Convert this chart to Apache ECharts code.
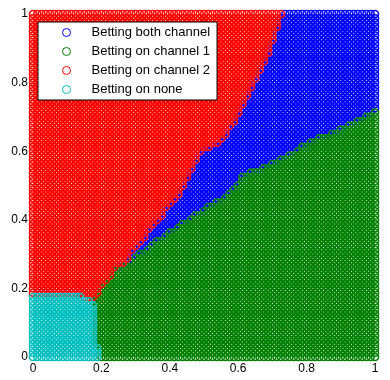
<!DOCTYPE html>
<html>
<head>
<meta charset="utf-8">
<script src="https://cdn.jsdelivr.net/npm/echarts@6/dist/echarts.min.js"></script>
<style>
  html, body { margin: 0; padding: 0; background: #ffffff; }
  #chart { width: 390px; height: 380px; }
</style>
</head>
<body>
<div id="chart"></div>
<script>
// Series names (legend order)
const seriesNames = ['Betting both channel', 'Betting on channel 1', 'Betting on channel 2', 'Betting on none'];
const seriesColors = ['#0000ff', '#008000', '#ff0000', '#00bfbf'];

// Tick labels
const xTicks = [0, 0.2, 0.4, 0.6, 0.8, 1];
const yTicks = [0, 0.2, 0.4, 0.6, 0.8, 1];

// Sample grid: 81 x 81 points, step 0.0125 on both axes
const gridStep = 0.0125;
const gridCount = 81;

// Per row (y index 0..80, bottom to top) run-length boundaries,
// as column indexes (x index 0..80):
//   columns [0, cyanEnd)        -> Betting on none
//   columns [cyanEnd, redEnd)   -> Betting on channel 2
//   columns [redEnd, blueEnd)   -> Betting both channel
//   columns [blueEnd, 81)       -> Betting on channel 1
const cyanEnd = [16,16,16,15,15,15,15,15,15,15,15,15,15,14,12,
  0,0,0,0,0,0,0,0,0,0,0,0,0,0,0,0,0,0,0,0,0,0,0,0,0,0,0,0,0,0,0,0,0,0,0,0,0,0,0,0,0,0,0,0,0,0,0,0,0,0,0,0,0,0,0,0,0,0,0,0,0,0,0,0,0,0];
const redEnd = [16,16,16,15,15,15,15,15,15,15,15,15,15,14,15,
  16,16,17,18,19,19,20,22,23,23,24,25,26,27,27,28,29,30,31,31,32,33,34,35,35,36,36,37,37,38,38,39,39,40,42,44,45,46,46,47,48,48,49,49,
  50,50,51,51,52,52,53,53,54,54,55,55,56,56,56,57,57,57,58,58,58,59];
const blueEnd = [16,16,16,15,15,15,15,15,15,15,15,15,15,14,15,
  16,16,17,18,19,19,21,23,24,25,27,28,29,31,32,34,35,37,38,40,41,43,45,46,47,48,49,49,51,54,56,58,60,62,63,65,67,70,72,74,76,78,80,
  81,81,81,81,81,81,81,81,81,81,81,81,81,81,81,81,81,81,81,81,81,81,81];

// Decode runs into the four point lists
const pts = [[], [], [], []]; // both, ch1, ch2, none
for (let j = 0; j < gridCount; j++) {
  const y = +(j * gridStep).toFixed(4);
  for (let i = 0; i < gridCount; i++) {
    const x = +(i * gridStep).toFixed(4);
    let k;
    if (i < cyanEnd[j]) k = 3;
    else if (i < redEnd[j]) k = 2;
    else if (i < blueEnd[j]) k = 0;
    else k = 1;
    pts[k].push([x, y]);
  }
}

const chart = echarts.init(document.getElementById('chart'), null, { renderer: 'canvas' });
const font = 'Liberation Sans, Arial, Helvetica, sans-serif';

const option = {
  animation: false,
  backgroundColor: '#ffffff',
  grid: { left: 33, right: 15, top: 14, bottom: 23, containLabel: false },
  xAxis: {
    type: 'value', min: xTicks[0], max: xTicks[xTicks.length - 1], interval: xTicks[1] - xTicks[0],
    axisLine: { show: false }, axisTick: { show: false }, splitLine: { show: false },
    axisLabel: { color: '#000', fontSize: 12, fontFamily: font, margin: 6 }
  },
  yAxis: {
    type: 'value', min: yTicks[0], max: yTicks[yTicks.length - 1], interval: yTicks[1] - yTicks[0],
    axisLine: { show: false }, axisTick: { show: false }, splitLine: { show: false },
    axisLabel: { color: '#000', fontSize: 12, fontFamily: font, margin: 5 }
  },
  legend: {
    orient: 'vertical',
    left: 38, top: 22,
    padding: [1, 7, 1, 24],
    itemGap: 0,
    itemWidth: 8, itemHeight: 8,
    icon: 'circle',
    backgroundColor: '#ffffff',
    borderColor: '#000000', borderWidth: 1, borderRadius: 0,
    textStyle: { color: '#000', fontSize: 13, fontFamily: font, lineHeight: 19, padding: [0, 0, 0, 16] },
    itemStyle: { color: 'rgba(0,0,0,0)', borderWidth: 1 },
    data: seriesNames
  },
  series: seriesNames.map((name, k) => ({
    name: name,
    type: 'scatter',
    symbol: 'circle',
    symbolSize: 7,
    itemStyle: { color: 'rgba(0,0,0,0)', borderColor: seriesColors[k], borderWidth: 1.6, opacity: 1 },
    emphasis: { disabled: true },
    silent: true,
    large: false,
    data: pts[k]
  }))
};
chart.setOption(option);
</script>
</body>
</html>
